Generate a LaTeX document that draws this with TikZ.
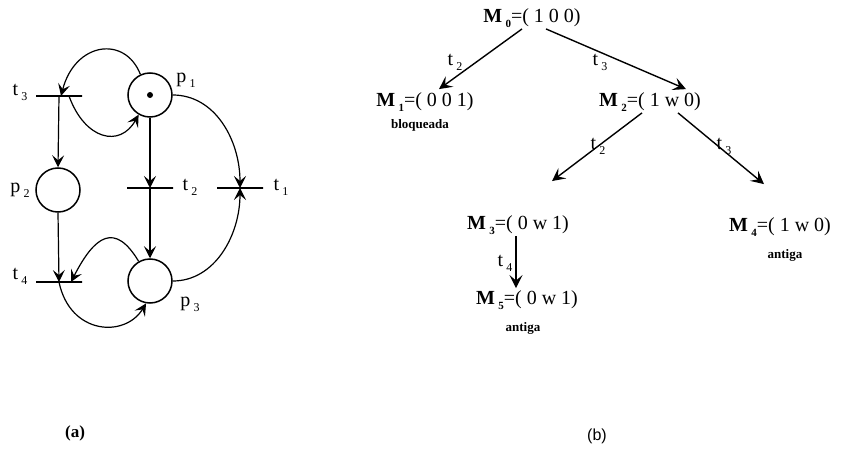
\documentclass[tikz,border=0pt]{standalone}
\usepackage{fontspec}
\setmainfont{Liberation Serif}
\newfontfamily\arialf{Liberation Sans}
\usetikzlibrary{arrows.meta}
\newcommand\mysub[2]{#1\,\raisebox{-0.55ex}{\fontsize{12}{12}\selectfont #2}}
\newcommand\Mk[2]{\textbf{M}\,\raisebox{-0.6ex}{\fontsize{11}{11}\selectfont\bfseries #1}=( #2)}
\begin{document}
\begin{tikzpicture}[x=1pt,y=-1pt,
  place/.style={circle,draw,line width=1.5pt,minimum size=44pt,inner sep=0pt},
  trans/.style={rectangle,draw,line width=1.5pt,minimum width=46pt,minimum height=0pt,inner sep=0pt},
  arc/.style={line width=1.2pt,-{Stealth[length=12pt,width=12pt,inset=5pt]}},
  tarc/.style={line width=1.4pt,-{Stealth[length=13pt,width=13pt,inset=5.5pt]}},
  lab/.style={font=\fontsize{20}{22}\selectfont,inner sep=0pt},
  mk/.style={font=\fontsize{20}{22}\selectfont,inner sep=1pt},
  note/.style={font=\fontsize{13}{14}\selectfont\bfseries,inner sep=0pt}]
\fill[white] (0,0) rectangle (841,452);
\useasboundingbox (0,0) rectangle (841,452);
% ---------- (a) Petri net ----------
\node[place] (p1) at (150,95) {};
\node[circle,fill,inner sep=0pt,minimum size=6pt] (tok) at (p1) {};
\node[place] (p2) at (58,190) {};
\node[place] (p3) at (150,281) {};
\node[trans] (t3) at (59,96) {};
\node[trans] (t2) at (150,188) {};
\node[trans] (t1) at (240,188) {};
\node[trans] (t4) at (59,282) {};
\node[lab] (lp1) at (186,80) {\mysub{p}{1}};
\node[lab] (lp2) at (20,190) {\mysub{p}{2}};
\node[lab] (lp3) at (190,304) {\mysub{p}{3}};
\node[lab] (lt3) at (20,92) {\mysub{t}{3}};
\node[lab] (lt2) at (190,187) {\mysub{t}{2}};
\node[lab] (lt1) at (281,187) {\mysub{t}{1}};
\node[lab] (lt4) at (20,276) {\mysub{t}{4}};
\draw[arc] (p1.east) .. controls (215,95) and (240,140) .. (t1.center);
\draw[arc] (p3.east) .. controls (215,281) and (240,235) .. (t1.center);
\draw[arc] (p1.south) -- (t2.center);
\draw[arc] (t2.center) -- (p3.north);
\draw[arc] (t3.center) -- (p2.north);
\draw[arc] (p2.south) -- (t4.center);
\draw[arc] (p1.115) .. controls (125,35) and (75,42) .. ([xshift=2pt]t3.center);
\draw[arc] ([xshift=10pt]t3.center) .. controls (85,140) and (120,148) .. (p1.240);
\draw[arc] (p3.120) .. controls (115,222) and (95,235) .. ([xshift=12pt]t4.center);
\draw[arc] (t4.center) .. controls (70,335) and (125,338) .. (p3.260);
\node[font=\fontsize{17}{19}\selectfont\bfseries,inner sep=0pt] (la) at (75,433) {(a)};
% ---------- (b) reachability tree ----------
\node[mk] (M0) at (532,18) {\Mk{0}{1 0 0}};
\node[mk] (M1) at (425,102) {\Mk{1}{0 0 1}};
\node[note] (n1) at (420,125) {bloqueada};
\node[mk] (M2) at (650,102) {\Mk{2}{1 w 0}};
\node[mk] (M3) at (518,225) {\Mk{3}{0 w 1}};
\node[mk] (M4) at (780,227) {\Mk{4}{1 w 0}};
\node[note] (n4) at (785,255) {antiga};
\node[mk] (M5) at (527,300) {\Mk{5}{0 w 1}};
\node[note] (n5) at (523,328) {antiga};
\draw[tarc] ([xshift=-10pt]M0.south) -- ([xshift=14pt,yshift=2pt]M1.north);
\draw[tarc] ([xshift=14pt]M0.south) -- ([xshift=36pt,yshift=2pt]M2.north);
\draw[tarc] ([xshift=-8pt]M2.south) -- ([xshift=34pt,yshift=33pt]M3.north);
\draw[tarc] ([xshift=28pt]M2.south) -- ([xshift=-16pt,yshift=32pt]M4.north);
\draw[tarc] ([xshift=-2pt]M3.south) -- ([xshift=-11pt,yshift=1pt]M5.north);
\node[lab] (e1) at (455,62) {\mysub{t}{2}};
\node[lab] (e2) at (600,62) {\mysub{t}{3}};
\node[lab] (e3) at (598,146) {\mysub{t}{2}};
\node[lab] (e4) at (724,146) {\mysub{t}{3}};
\node[lab] (e5) at (505,263) {\mysub{t}{4}};
\node[font=\fontsize{16}{18}\selectfont\arialf,inner sep=0pt] (lb) at (597,436) {(b)};
\end{tikzpicture}
\end{document}
